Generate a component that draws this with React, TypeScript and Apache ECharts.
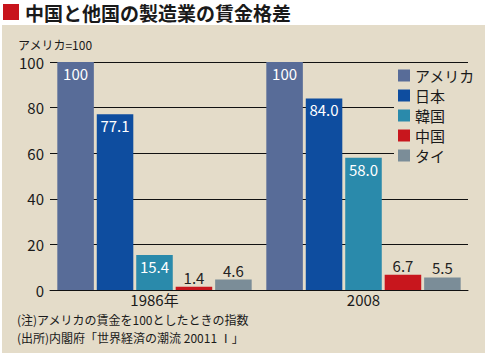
import React, { useEffect, useRef } from "react";
import * as echarts from "echarts";

const categories = ["1986年", "2008"];
const seriesNames = ["アメリカ", "日本", "韓国", "中国", "タイ"];
const usa = [100, 100];
const japan = [77.1, 84.0];
const korea = [15.4, 58.0];
const china = [1.4, 6.7];
const thai = [4.6, 5.5];
const yTicks = [0, 20, 40, 60, 80, 100];
const colors = ["#586c98", "#0e4d9f", "#2a8aab", "#c8161d", "#7b8d98"];

const FONT = "'Noto Sans CJK JP', 'Noto Sans', sans-serif";

export default function App() {
  const ref = useRef<HTMLDivElement>(null);
  useEffect(() => {
    if (!ref.current) return;
    const chart = echarts.init(ref.current, null, { renderer: "svg" });
    const allData = [usa, japan, korea, china, thai];
    const series = seriesNames.map((name, i) => ({
      name,
      type: "bar",
      barGap: "8%",
      barCategoryGap: "7%",
      itemStyle: { color: colors[i] },
      data: allData[i].map((v) => {
        const inside = v > 10;
        return {
          value: v,
          label: {
            show: true,
            position: inside ? "insideTop" : "top",
            distance: inside ? 4 : 2,
            color: inside ? "#ffffff" : "#222222",
            fontSize: 15,
            fontFamily: FONT,
            formatter: (p: any) => (p.value === 100 ? "100" : Number(p.value).toFixed(1)),
          },
        };
      }),
    }));
    chart.setOption({
      animation: false,
      backgroundColor: "#ffffff",
      textStyle: { fontFamily: FONT },
      graphic: [
        { type: "rect", shape: { x: 2, y: 25, width: 483, height: 328 }, style: { fill: "#e4dcc9" }, z: -10 },
        { type: "rect", shape: { x: 3, y: 4, width: 16, height: 16 }, style: { fill: "#c8141c" } },
        {
          type: "text",
          left: 25,
          top: 2,
          style: { text: "中国と他国の製造業の賃金格差", fontSize: 19, lineHeight: 20, fontWeight: "bold", fill: "#1a1a1a", fontFamily: FONT },
        },
        {
          type: "text",
          left: 18,
          top: 38,
          style: { text: "アメリカ=100", fontSize: 12, fill: "#1a1a1a", fontFamily: FONT },
        },
        {
          type: "text",
          left: 17,
          top: 312,
          style: { text: "(注)アメリカの賃金を100としたときの指数", fontSize: 12, lineHeight: 15, fill: "#1a1a1a", fontFamily: FONT },
        },
        {
          type: "text",
          left: 17,
          top: 330,
          style: { text: "(出所)内閣府「世界経済の潮流 20011 Ⅰ」", fontSize: 12, lineHeight: 15, fill: "#1a1a1a", fontFamily: FONT },
        },
      ],
      legend: {
        orient: "vertical",
        left: 394,
        top: 64,
        itemWidth: 12,
        itemHeight: 12,
        itemGap: 5,
        icon: "rect",
        backgroundColor: "#e4dcc9",
        padding: [4, 4, 4, 4],
        textStyle: { fontSize: 15, color: "#1a1a1a", fontFamily: FONT, lineHeight: 15, padding: [0, 0, 0, 0] },
        data: seriesNames,
      },
      grid: { left: 50, right: 20, top: 62, bottom: 66 },
      xAxis: {
        type: "category",
        data: categories,
        axisLine: { lineStyle: { color: "#111", width: 1 } },
        axisTick: { show: false },
        axisLabel: { fontSize: 15, color: "#1a1a1a", margin: 1, lineHeight: 16, fontFamily: FONT },
      },
      yAxis: {
        type: "value",
        min: yTicks[0],
        max: yTicks[yTicks.length - 1],
        interval: 20,
        axisLine: { show: false },
        axisTick: { show: false },
        splitLine: { lineStyle: { color: "#111", width: 1 } },
        axisLabel: { fontSize: 15, color: "#1a1a1a", margin: 6, fontFamily: FONT },
      },
      series,
    });
    return () => chart.dispose();
  }, []);
  return (
    <div
      ref={ref}
      style={{ position: "absolute", left: 0, top: 0, width: 488, height: 356 }}
    />
  );
}
